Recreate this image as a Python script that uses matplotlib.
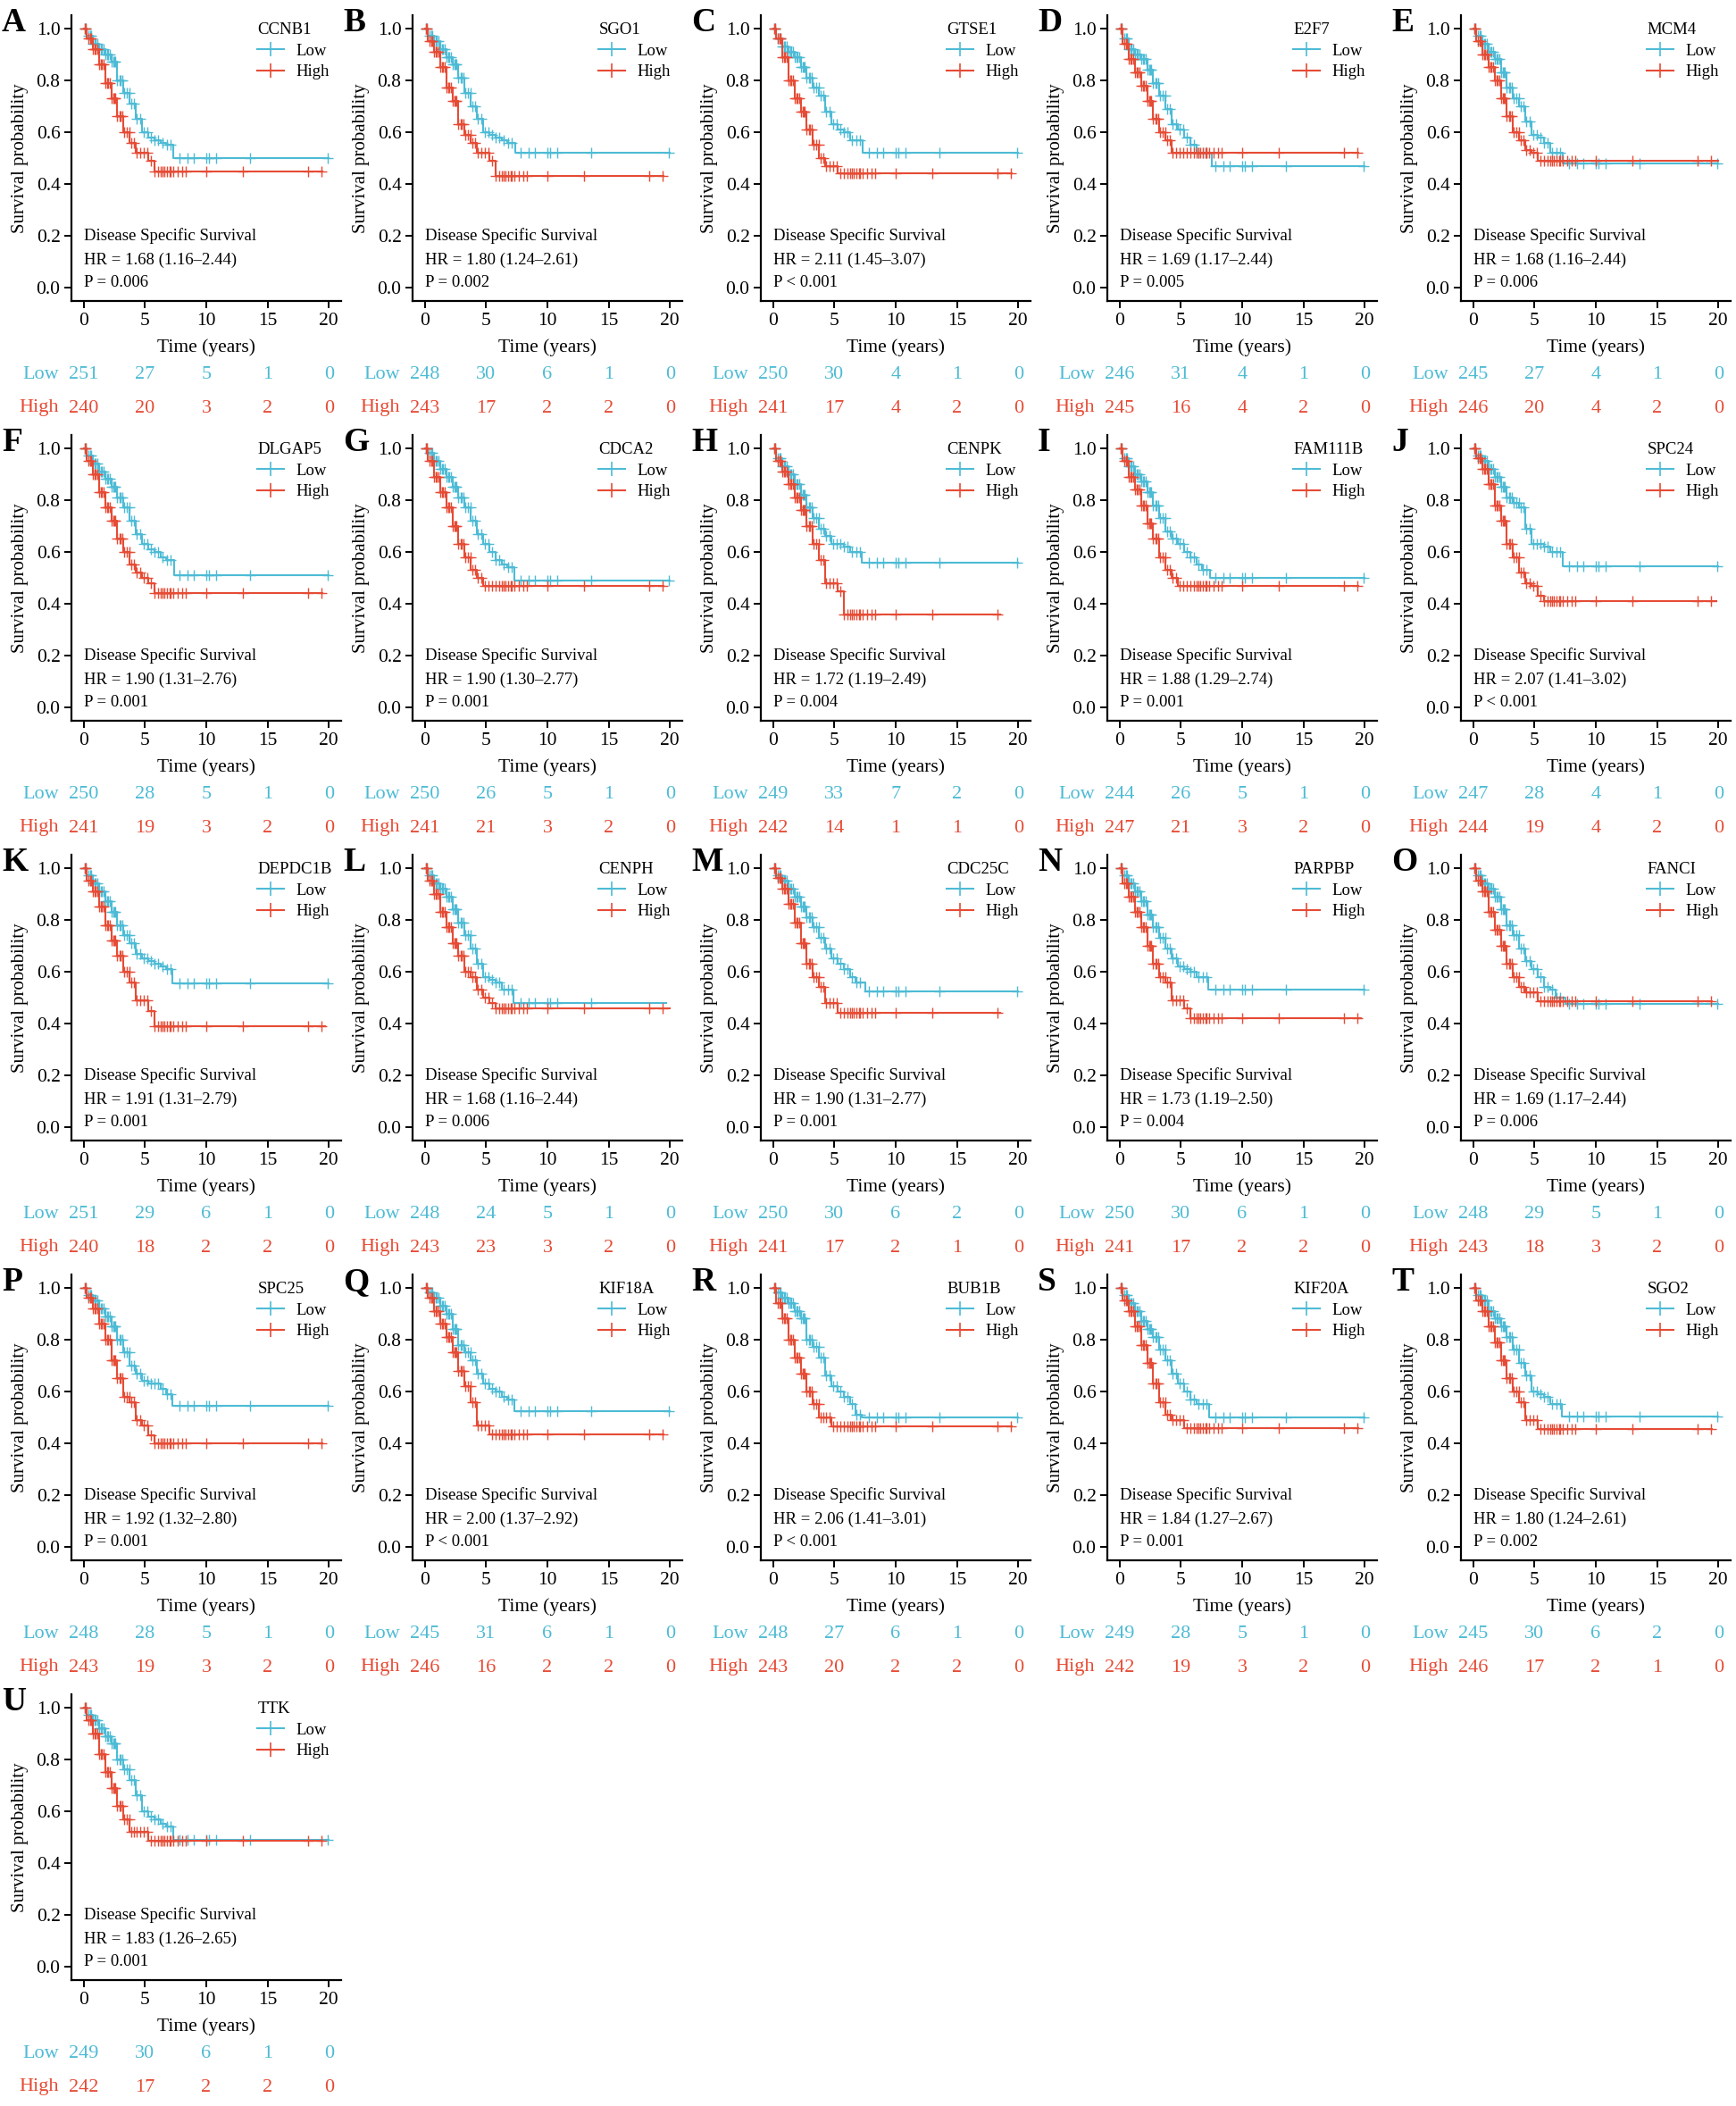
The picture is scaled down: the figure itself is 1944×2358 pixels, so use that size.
import numpy as np
import matplotlib
matplotlib.use('Agg')
import matplotlib.pyplot as plt
from matplotlib.lines import Line2D
from matplotlib.ticker import FormatStrFormatter

plt.rcParams['font.family'] = ['Liberation Serif', 'DejaVu Serif']

panel_letters = list('ABCDEFGHIJKLMNOPQRSTU')
genes = ['CCNB1', 'SGO1', 'GTSE1', 'E2F7', 'MCM4',
         'DLGAP5', 'CDCA2', 'CENPK', 'FAM111B', 'SPC24',
         'DEPDC1B', 'CENPH', 'CDC25C', 'PARPBP', 'FANCI',
         'SPC25', 'KIF18A', 'BUB1B', 'KIF20A', 'SGO2', 'TTK']
hr_text = ['1.68 (1.16–2.44)', '1.80 (1.24–2.61)', '2.11 (1.45–3.07)', '1.69 (1.17–2.44)', '1.68 (1.16–2.44)',
           '1.90 (1.31–2.76)', '1.90 (1.30–2.77)', '1.72 (1.19–2.49)', '1.88 (1.29–2.74)', '2.07 (1.41–3.02)',
           '1.91 (1.31–2.79)', '1.68 (1.16–2.44)', '1.90 (1.31–2.77)', '1.73 (1.19–2.50)', '1.69 (1.17–2.44)',
           '1.92 (1.32–2.80)', '2.00 (1.37–2.92)', '2.06 (1.41–3.01)', '1.84 (1.27–2.67)', '1.80 (1.24–2.61)',
           '1.83 (1.26–2.65)']
p_text = ['P = 0.006', 'P = 0.002', 'P < 0.001', 'P = 0.005', 'P = 0.006',
          'P = 0.001', 'P = 0.001', 'P = 0.004', 'P = 0.001', 'P < 0.001',
          'P = 0.001', 'P = 0.006', 'P = 0.001', 'P = 0.004', 'P = 0.006',
          'P = 0.001', 'P < 0.001', 'P < 0.001', 'P = 0.001', 'P = 0.002',
          'P = 0.001']

risk_times = [0, 5, 10, 15, 20]
low_at_risk = [[251, 27, 5, 1, 0], [248, 30, 6, 1, 0], [250, 30, 4, 1, 0], [246, 31, 4, 1, 0], [245, 27, 4, 1, 0],
               [250, 28, 5, 1, 0], [250, 26, 5, 1, 0], [249, 33, 7, 2, 0], [244, 26, 5, 1, 0], [247, 28, 4, 1, 0],
               [251, 29, 6, 1, 0], [248, 24, 5, 1, 0], [250, 30, 6, 2, 0], [250, 30, 6, 1, 0], [248, 29, 5, 1, 0],
               [248, 28, 5, 1, 0], [245, 31, 6, 1, 0], [248, 27, 6, 1, 0], [249, 28, 5, 1, 0], [245, 30, 6, 2, 0],
               [249, 30, 6, 1, 0]]
high_at_risk = [[240, 20, 3, 2, 0], [243, 17, 2, 2, 0], [241, 17, 4, 2, 0], [245, 16, 4, 2, 0], [246, 20, 4, 2, 0],
                [241, 19, 3, 2, 0], [241, 21, 3, 2, 0], [242, 14, 1, 1, 0], [247, 21, 3, 2, 0], [244, 19, 4, 2, 0],
                [240, 18, 2, 2, 0], [243, 23, 3, 2, 0], [241, 17, 2, 1, 0], [241, 17, 2, 2, 0], [243, 18, 3, 2, 0],
                [243, 19, 3, 2, 0], [246, 16, 2, 2, 0], [243, 20, 2, 2, 0], [242, 19, 3, 2, 0], [246, 17, 2, 1, 0],
                [242, 17, 2, 2, 0]]

# survival, step starts at these times (years)
surv_times = [0, 0.25, 0.75, 1.25, 1.75, 2.25, 2.75, 3.25, 3.75, 4.25, 4.75, 5.25, 5.75, 6.25, 6.75]
low_surv = [
    [1.0, 0.97, 0.94, 0.92, 0.90, 0.87, 0.80, 0.75, 0.71, 0.65, 0.60, 0.58, 0.57, 0.56, 0.55],
    [1.0, 0.97, 0.95, 0.92, 0.89, 0.86, 0.81, 0.75, 0.70, 0.65, 0.60, 0.59, 0.58, 0.57, 0.56],
    [1.0, 0.96, 0.93, 0.91, 0.89, 0.85, 0.81, 0.77, 0.74, 0.68, 0.63, 0.61, 0.60, 0.57, 0.57],
    [1.0, 0.96, 0.92, 0.90, 0.88, 0.84, 0.79, 0.74, 0.69, 0.63, 0.61, 0.58, 0.55, 0.52, 0.52],
    [1.0, 0.97, 0.94, 0.91, 0.88, 0.83, 0.77, 0.73, 0.70, 0.64, 0.59, 0.58, 0.56, 0.52, 0.52],
    [1.0, 0.97, 0.94, 0.91, 0.88, 0.85, 0.81, 0.77, 0.72, 0.67, 0.63, 0.61, 0.60, 0.58, 0.57],
    [1.0, 0.98, 0.95, 0.92, 0.89, 0.85, 0.81, 0.77, 0.72, 0.67, 0.63, 0.60, 0.57, 0.55, 0.54],
    [1.0, 0.96, 0.93, 0.90, 0.86, 0.82, 0.77, 0.73, 0.69, 0.66, 0.63, 0.63, 0.62, 0.60, 0.60],
    [1.0, 0.96, 0.93, 0.90, 0.87, 0.83, 0.78, 0.73, 0.68, 0.65, 0.63, 0.60, 0.58, 0.55, 0.53],
    [1.0, 0.97, 0.95, 0.92, 0.89, 0.85, 0.81, 0.79, 0.77, 0.69, 0.63, 0.63, 0.62, 0.60, 0.60],
    [1.0, 0.97, 0.94, 0.91, 0.87, 0.83, 0.78, 0.74, 0.71, 0.67, 0.65, 0.64, 0.63, 0.62, 0.61],
    [1.0, 0.97, 0.94, 0.92, 0.89, 0.84, 0.79, 0.74, 0.69, 0.63, 0.58, 0.57, 0.56, 0.53, 0.53],
    [1.0, 0.97, 0.95, 0.92, 0.89, 0.85, 0.81, 0.77, 0.73, 0.69, 0.65, 0.63, 0.61, 0.58, 0.56],
    [1.0, 0.97, 0.94, 0.91, 0.87, 0.82, 0.77, 0.73, 0.69, 0.65, 0.62, 0.61, 0.60, 0.58, 0.58],
    [1.0, 0.97, 0.94, 0.92, 0.89, 0.84, 0.78, 0.74, 0.69, 0.64, 0.61, 0.58, 0.54, 0.53, 0.50],
    [1.0, 0.97, 0.95, 0.92, 0.89, 0.85, 0.80, 0.75, 0.70, 0.67, 0.64, 0.63, 0.63, 0.61, 0.59],
    [1.0, 0.98, 0.96, 0.93, 0.90, 0.84, 0.78, 0.75, 0.72, 0.67, 0.63, 0.61, 0.60, 0.58, 0.57],
    [1.0, 0.98, 0.96, 0.94, 0.91, 0.88, 0.80, 0.77, 0.73, 0.66, 0.62, 0.60, 0.58, 0.55, 0.51],
    [1.0, 0.97, 0.94, 0.91, 0.87, 0.84, 0.81, 0.76, 0.72, 0.67, 0.63, 0.60, 0.57, 0.55, 0.55],
    [1.0, 0.97, 0.95, 0.91, 0.88, 0.85, 0.81, 0.76, 0.71, 0.66, 0.60, 0.59, 0.58, 0.55, 0.55],
    [1.0, 0.97, 0.95, 0.92, 0.89, 0.86, 0.80, 0.76, 0.72, 0.66, 0.60, 0.58, 0.57, 0.55, 0.54],
]
high_surv = [
    [1.0, 0.96, 0.92, 0.86, 0.79, 0.73, 0.66, 0.60, 0.56, 0.52, 0.52, 0.49, 0.45, 0.45, 0.45],
    [1.0, 0.95, 0.91, 0.85, 0.77, 0.72, 0.63, 0.59, 0.56, 0.52, 0.52, 0.49, 0.43, 0.43, 0.43],
    [1.0, 0.96, 0.89, 0.80, 0.73, 0.68, 0.61, 0.55, 0.50, 0.47, 0.47, 0.44, 0.44, 0.44, 0.44],
    [1.0, 0.94, 0.88, 0.83, 0.78, 0.72, 0.65, 0.60, 0.57, 0.52, 0.52, 0.52, 0.52, 0.52, 0.52],
    [1.0, 0.95, 0.90, 0.85, 0.80, 0.73, 0.66, 0.60, 0.57, 0.53, 0.52, 0.49, 0.49, 0.49, 0.49],
    [1.0, 0.95, 0.90, 0.83, 0.77, 0.72, 0.65, 0.60, 0.55, 0.52, 0.50, 0.48, 0.44, 0.44, 0.44],
    [1.0, 0.95, 0.89, 0.83, 0.77, 0.70, 0.63, 0.58, 0.53, 0.50, 0.47, 0.47, 0.47, 0.47, 0.47],
    [1.0, 0.95, 0.91, 0.86, 0.81, 0.76, 0.70, 0.63, 0.57, 0.48, 0.48, 0.45, 0.36, 0.36, 0.36],
    [1.0, 0.95, 0.89, 0.84, 0.78, 0.71, 0.65, 0.58, 0.53, 0.50, 0.47, 0.47, 0.47, 0.47, 0.47],
    [1.0, 0.96, 0.92, 0.86, 0.78, 0.72, 0.63, 0.58, 0.52, 0.48, 0.47, 0.43, 0.41, 0.41, 0.41],
    [1.0, 0.95, 0.91, 0.85, 0.78, 0.72, 0.66, 0.60, 0.56, 0.49, 0.49, 0.45, 0.39, 0.39, 0.39],
    [1.0, 0.95, 0.90, 0.83, 0.77, 0.71, 0.66, 0.60, 0.58, 0.53, 0.50, 0.48, 0.46, 0.46, 0.46],
    [1.0, 0.96, 0.92, 0.86, 0.79, 0.71, 0.63, 0.58, 0.54, 0.48, 0.48, 0.44, 0.44, 0.44, 0.44],
    [1.0, 0.94, 0.89, 0.83, 0.77, 0.70, 0.63, 0.58, 0.56, 0.49, 0.49, 0.46, 0.42, 0.42, 0.42],
    [1.0, 0.95, 0.91, 0.83, 0.76, 0.70, 0.63, 0.58, 0.54, 0.52, 0.52, 0.485, 0.485, 0.485, 0.485],
    [1.0, 0.96, 0.92, 0.86, 0.80, 0.72, 0.65, 0.58, 0.56, 0.49, 0.47, 0.43, 0.40, 0.40, 0.40],
    [1.0, 0.96, 0.91, 0.86, 0.81, 0.75, 0.68, 0.62, 0.56, 0.47, 0.47, 0.435, 0.435, 0.435, 0.435],
    [1.0, 0.94, 0.88, 0.80, 0.73, 0.67, 0.60, 0.55, 0.50, 0.50, 0.465, 0.465, 0.465, 0.465, 0.465],
    [1.0, 0.95, 0.91, 0.85, 0.78, 0.71, 0.63, 0.56, 0.51, 0.49, 0.49, 0.46, 0.46, 0.46, 0.46],
    [1.0, 0.95, 0.91, 0.85, 0.79, 0.72, 0.65, 0.60, 0.56, 0.49, 0.49, 0.455, 0.455, 0.455, 0.455],
    [1.0, 0.95, 0.90, 0.82, 0.75, 0.69, 0.62, 0.57, 0.52, 0.52, 0.52, 0.485, 0.485, 0.485, 0.485],
]
# [time of last drop, plateau, last follow-up]
low_tail = [[7.3, 0.50, 20], [7.4, 0.52, 20], [7.3, 0.52, 20], [7.5, 0.47, 20], [7.3, 0.48, 20],
            [7.4, 0.51, 20], [7.3, 0.49, 20], [7.2, 0.56, 20], [7.4, 0.50, 20], [7.3, 0.545, 20],
            [7.2, 0.555, 20], [7.2, 0.48, 19.7], [7.5, 0.525, 20], [7.2, 0.53, 20], [7.5, 0.475, 20],
            [7.2, 0.545, 20], [7.3, 0.525, 20], [7.2, 0.50, 20], [7.3, 0.50, 20], [7.2, 0.505, 20],
            [7.3, 0.49, 20]]
high_tail = [[7.0, 0.45, 19.5], [7.0, 0.43, 19.5], [7.0, 0.44, 19.5], [7.0, 0.52, 19.5], [7.0, 0.49, 20],
             [7.0, 0.44, 19.5], [7.0, 0.47, 19.5], [7.0, 0.36, 18.5], [7.0, 0.47, 19.5], [7.0, 0.41, 19.8],
             [7.0, 0.39, 19.7], [7.0, 0.46, 20], [7.0, 0.44, 18.5], [7.0, 0.42, 19.7], [7.0, 0.485, 19.5],
             [7.0, 0.40, 19.5], [7.0, 0.435, 19.5], [7.0, 0.465, 19.5], [7.0, 0.46, 19.5], [7.0, 0.455, 19.5],
             [7.0, 0.485, 19.5]]
early_censor = [0.1, 0.2, 0.35, 0.5, 0.6, 0.75, 0.9, 1.0, 1.1, 1.25, 1.4, 1.5, 1.6, 1.75, 1.9, 2.0,
                2.1, 2.25, 2.4, 2.5, 2.6, 2.75, 2.9, 3.0, 3.15, 3.3, 3.5, 3.7, 3.9, 4.1, 4.3, 4.6,
                4.9, 5.2, 5.5, 5.8, 6.1, 6.4, 6.8, 7.1]
low_late_censor = [7.8, 8.5, 9.0, 10.0, 10.2, 10.8, 13.6, 19.9]
high_late_censor = [6.3, 6.6, 7.0, 7.3, 7.7, 8.0, 8.3, 10.0, 13.0, 18.3, 19.4]

LOW_C = '#4DBBD5'
HIGH_C = '#E64B35'

W, H = 1944, 2358
fig = plt.figure(figsize=(W / 100, H / 100), dpi=100)
col_x = [80, 462, 852, 1240, 1636]


def step_curve(vals, tail):
    t = np.array(surv_times + [tail[0], tail[2]])
    s = np.array(vals + [tail[1], tail[1]])
    return t, s


for i, gene in enumerate(genes):
    r, c = divmod(i, 5)
    left = col_x[c]
    top = 17 + 470 * r
    ax = fig.add_axes([left / W, 1 - (top + 320) / H, 302 / W, 320 / H])

    groups = [(low_surv[i], low_tail[i], low_late_censor, LOW_C),
              (high_surv[i], high_tail[i], high_late_censor, HIGH_C)]
    for vals, tail, late, color in groups:
        t, s = step_curve(vals, tail)
        ax.step(t, s, where='post', color=color, lw=1.5)
        cens = np.array([x for x in early_censor + late if x <= tail[2]])
        idx = np.searchsorted(t, cens, side='right') - 1
        ax.plot(cens, s[idx], ls='none', marker='+', ms=8, mew=1.0, color=color)

    ax.set_xlim(-1, 21)
    ax.set_ylim(-0.05, 1.05)
    ax.set_xticks([0, 5, 10, 15, 20])
    ax.set_yticks([0, 0.2, 0.4, 0.6, 0.8, 1.0])
    ax.yaxis.set_major_formatter(FormatStrFormatter('%.1f'))
    for side in ['top', 'right']:
        ax.spines[side].set_visible(False)
    for side in ['left', 'bottom']:
        ax.spines[side].set_linewidth(1.6)
    ax.tick_params(direction='out', length=6, width=1.4, labelsize=15.5, pad=3)
    ax.set_xlabel('Time (years)', fontsize=15.5, labelpad=8)
    ax.set_ylabel('Survival probability', fontsize=15, labelpad=6)

    ax.text(0, 0.2, 'Disease Specific Survival', fontsize=13.5, va='center')
    ax.text(0, 0.107, 'HR = ' + hr_text[i], fontsize=13.5, va='center')
    ax.text(0, 0.02, p_text[i], fontsize=13.5, va='center')

    handles = [Line2D([], [], color=LOW_C, lw=1.5, marker='+', ms=11, mew=1.2),
               Line2D([], [], color=HIGH_C, lw=1.5, marker='+', ms=11, mew=1.2)]
    ax.legend(handles, ['Low', 'High'], title=gene, loc='upper left',
              bbox_to_anchor=(0.69, 0.975), frameon=False, fontsize=13.5,
              title_fontsize=13.5, handlelength=1.6, handletextpad=0.7,
              labelspacing=0.35, borderpad=0, borderaxespad=0, alignment='left')

    tr = ax.get_xaxis_transform()
    for yrow, lab, counts, color in [(-0.257, 'Low', low_at_risk[i], LOW_C),
                                     (-0.375, 'High', high_at_risk[i], HIGH_C)]:
        ax.text(-2.0, yrow, lab, transform=tr, ha='right', va='center',
                color=color, fontsize=16, clip_on=False)
        for tt, n in zip(risk_times, counts):
            ax.text(tt, yrow, str(n), transform=tr, ha='center', va='center',
                    color=color, fontsize=16, clip_on=False)

    fig.text((left - 78) / W, 1 - (top + 18) / H, panel_letters[i], fontsize=27,
             fontweight='bold', ha='left', va='baseline')

fig.savefig('out.png', dpi=100)
